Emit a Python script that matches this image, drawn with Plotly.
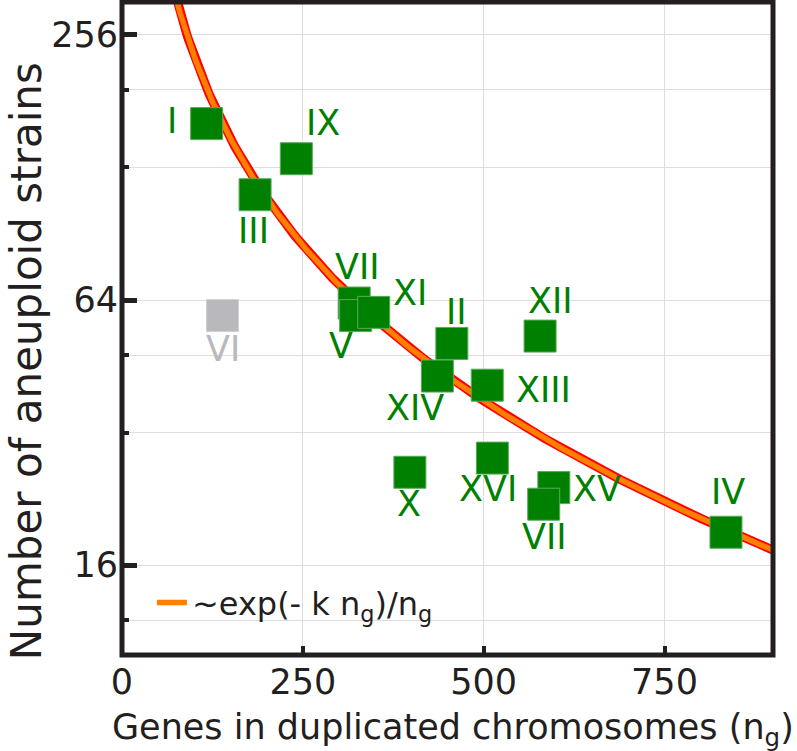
import numpy as np
import plotly.graph_objects as go

# ---- data ----
chromosomes = ["I", "IX", "III", "VII", "V", "XI", "II", "XIV", "XIII", "XII",
               "X", "XVI", "XV", "VII", "IV"]
genes = [117, 241, 184, 321, 323, 348, 456, 436, 505, 578, 398, 512, 597, 583, 835]
strains = [161, 134, 111, 63, 59, 60, 51, 43, 41, 53, 26, 28, 24, 22, 19]

excluded_name = ["VI"]
excluded_genes = [139]
excluded_strains = [59]

# fitted model ~ A * exp(-k n) / n
A_fit = 24000.0
k_fit = 0.00048

# label offsets (pixels) relative to each marker -- style only
lab_dx = [-35, 27, -2, 3, -15, 36, 5, -22, 56, 10, -1, -4, 43, 1, 2]
lab_dy = [3, 36, -36, 36, -30, 19, 31, -32, -5, 35, -32, -31, -1, -33, 40]
vi_dx, vi_dy = 0, -33

GREEN = "#008000"
GRAY = "#b9b9bd"
DARK = "#231f20"
FONT = "DejaVu Sans"

n_curve = np.linspace(40, 900, 400)
f_curve = A_fit * np.exp(-k_fit * n_curve) / n_curve

fig = go.Figure()
fig.add_trace(go.Scatter(x=n_curve, y=f_curve, mode="lines",
                         line=dict(color="#ff0000", width=9),
                         showlegend=False, hoverinfo="skip"))
fig.add_trace(go.Scatter(x=n_curve, y=f_curve, mode="lines",
                         line=dict(color="#ff8000", width=5.5),
                         name="~exp(- k n<sub>g</sub>)/n<sub>g</sub>",
                         showlegend=True))
fig.add_trace(go.Scatter(x=excluded_genes, y=excluded_strains, mode="markers",
                         marker=dict(symbol="square", size=32, color=GRAY,
                                     line=dict(color="#d0d0d4", width=1)),
                         showlegend=False))
fig.add_trace(go.Scatter(x=genes, y=strains, mode="markers",
                         marker=dict(symbol="square", size=32, color=GREEN,
                                     line=dict(color="#5aaa5a", width=1)),
                         showlegend=False))

annotations = []
for name, x, y, dx, dy in zip(chromosomes, genes, strains, lab_dx, lab_dy):
    annotations.append(dict(x=x, y=np.log10(y), xref="x", yref="y", text=name,
                            showarrow=False, xshift=dx, yshift=dy,
                            xanchor="center", yanchor="middle",
                            font=dict(family=FONT, size=35, color=GREEN)))
for name, x, y in zip(excluded_name, excluded_genes, excluded_strains):
    annotations.append(dict(x=x, y=np.log10(y), xref="x", yref="y", text=name,
                            showarrow=False, xshift=vi_dx, yshift=vi_dy,
                            xanchor="center", yanchor="middle",
                            font=dict(family=FONT, size=35, color=GRAY)))

# axis titles as annotations
annotations.append(dict(xref="paper", yref="paper", x=0.508, y=-0.077,
                        xanchor="center", yanchor="top", showarrow=False,
                        text="Genes in duplicated chromosomes (n<sub>g</sub>)",
                        font=dict(family=FONT, size=35, color=DARK)))
annotations.append(dict(xref="paper", yref="paper", x=-0.1475, y=0.45,
                        xanchor="center", yanchor="middle", showarrow=False,
                        textangle=-90, text="Number of aneuploid strains",
                        font=dict(family=FONT, size=42, color=DARK)))

fig.update_layout(
    width=797, height=751,
    margin=dict(l=122, r=24, t=2, b=96),
    paper_bgcolor="white", plot_bgcolor="white",
    font=dict(family=FONT, color=DARK),
    annotations=annotations,
    showlegend=True,
    legend=dict(x=0.046, y=0.08, xanchor="left", yanchor="middle",
                bgcolor="rgba(0,0,0,0)", font=dict(family=FONT, size=32, color=DARK)),
    shapes=[dict(type="rect", xref="paper", yref="paper", x0=0, x1=1, y0=0, y1=1,
                 line=dict(color=DARK, width=5), layer="above")],
)
fig.update_xaxes(range=[0, 900], tickvals=[0, 250, 500, 750], automargin=False,
                 ticks="inside", ticklen=9, tickwidth=4, tickcolor=DARK,
                 showgrid=True, gridcolor="#dddddd", gridwidth=1,
                 zeroline=False, showline=False, ticklabelstandoff=3,
                 tickfont=dict(family=FONT, size=35, color=DARK))
fig.update_yaxes(type="log", range=[1.0, 2.483], tickvals=[16, 64, 256],
                 ticktext=["16", "64", "256"], automargin=False,
                 ticks="inside", ticklen=15, tickwidth=4.5, tickcolor=DARK,
                 showgrid=True, gridcolor="#dddddd", gridwidth=1,
                 zeroline=False, showline=False, ticklabelstandoff=3,
                 minor=dict(tickvals=[12, 32, 48, 128, 192], ticks="inside",
                            ticklen=7, tickwidth=4, tickcolor=DARK,
                            showgrid=True, gridcolor="#dddddd", gridwidth=1),
                 tickfont=dict(family=FONT, size=35, color=DARK))

fig.write_html("out.html", config={"displayModeBar": False},
               post_script="document.body.style.margin='0';document.body.style.padding='0';")
